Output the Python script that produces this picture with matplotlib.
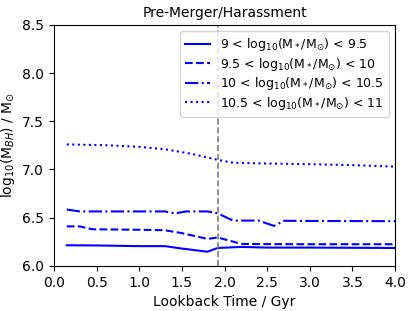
import matplotlib
matplotlib.use("Agg")
import matplotlib.pyplot as plt

# data
t_solid = [0.15, 0.5, 1.0, 1.3, 1.5, 1.8, 1.92, 2.2, 2.5, 3.0, 3.5, 4.0]
m_solid = [6.214, 6.212, 6.205, 6.205, 6.18, 6.147, 6.186, 6.197, 6.19, 6.19, 6.188, 6.186]

t_dash = [0.15, 0.3, 0.45, 1.0, 1.3, 1.5, 1.8, 1.92, 2.2, 2.5, 3.0, 4.0]
m_dash = [6.41, 6.41, 6.38, 6.375, 6.37, 6.34, 6.28, 6.295, 6.228, 6.226, 6.225, 6.225]

t_dd = [0.15, 0.3, 0.6, 1.0, 1.3, 1.42, 1.55, 1.8, 1.92, 2.1, 2.4, 2.58, 2.7, 3.0, 4.0]
m_dd = [6.585, 6.565, 6.565, 6.565, 6.565, 6.545, 6.565, 6.565, 6.545, 6.47, 6.47, 6.415, 6.468, 6.466, 6.464]

t_dot = [0.15, 0.6, 1.0, 1.3, 1.6, 1.92, 2.1, 2.5, 3.0, 3.5, 4.0]
m_dot = [7.26, 7.252, 7.235, 7.21, 7.165, 7.1, 7.07, 7.062, 7.055, 7.045, 7.03]

labels = [r'9 < log$_{10}$(M$_*$/M$_{\odot}$) < 9.5',
          r'9.5 < log$_{10}$(M$_*$/M$_{\odot}$) < 10',
          r'10 < log$_{10}$(M$_*$/M$_{\odot}$) < 10.5',
          r'10.5 < log$_{10}$(M$_*$/M$_{\odot}$) < 11']

vline_x = 1.92

fig = plt.figure(figsize=(4.15, 3.11), dpi=100)
ax = fig.add_axes([0.130, 0.145, 0.822, 0.775])

ax.plot(t_solid, m_solid, color='blue', ls='-', lw=1.5, label=labels[0])
ax.plot(t_dash, m_dash, color='blue', ls='--', lw=1.5, label=labels[1])
ax.plot(t_dd, m_dd, color='blue', ls='-.', lw=1.5, label=labels[2])
ax.plot(t_dot, m_dot, color='blue', ls=':', lw=1.5, label=labels[3])
ax.axvline(vline_x, color='grey', ls='--', lw=1.2)

ax.set_xlim(0, 4)
ax.set_ylim(6.0, 8.5)
ax.set_xticks([0.0, 0.5, 1.0, 1.5, 2.0, 2.5, 3.0, 3.5, 4.0])
ax.set_yticks([6.0, 6.5, 7.0, 7.5, 8.0, 8.5])
ax.tick_params(labelsize=10)
ax.set_xlabel('Lookback Time / Gyr', fontsize=10)
ax.set_ylabel(r'log$_{10}$(M$_{BH}$) / M$_{\odot}$', fontsize=10)
ax.set_title('Pre-Merger/Harassment', fontsize=10)
ax.legend(loc='upper right', fontsize=9, labelspacing=0.2)

fig.savefig('out.png', dpi=100)
